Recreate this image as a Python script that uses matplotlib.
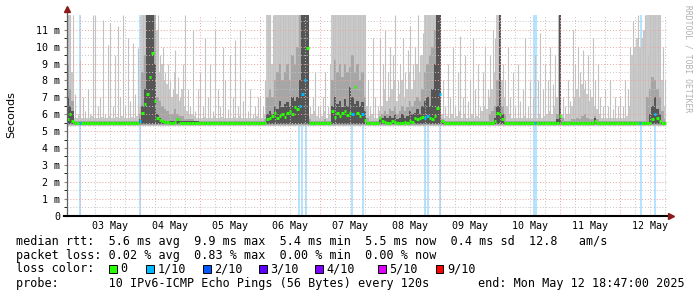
import datetime as dt
import matplotlib
matplotlib.use("Agg")
import matplotlib.pyplot as plt
import matplotlib.dates as mdates
from matplotlib.patches import Rectangle
from matplotlib.ticker import MultipleLocator, FixedLocator, FixedFormatter

# hourly samples, first one at 02 May 19:00, values in ms
first_sample = dt.datetime(2025, 5, 2, 19, 0)
t_begin = dt.datetime(2025, 5, 2, 18, 47)
t_end = dt.datetime(2025, 5, 12, 18, 47)

# tallest ping of the hour (thin light smoke spikes)
spike_top = (
    [11.9, 11.9, 11.9, 7.2, 6.0]  # 02 May
    + [9.2, 7.0, 6.2, 7.5, 6.0, 11.9, 11.9, 6.5, 7.0, 11.6, 6.0, 10.1,
       11.4, 6.5, 9.5, 11.2, 7.0, 11.9, 6.5, 10.5, 6.8, 10.2, 7.2, 9.9]  # 03
    + [6.5] + [11.9] * 7 + [9.5, 10.0, 8.5, 9.0, 8.0, 7.5, 9.8, 8.2,
                            7.0, 9.0, 11.9, 7.5, 6.5, 11.0, 6.2, 7.5]  # 04
    + [8.5, 6.5, 10.5, 7.0, 9.0, 6.2, 11.0, 7.5, 6.5, 10.0, 8.0, 6.3,
       9.5, 7.0, 10.4, 6.5, 11.0, 6.8, 8.0, 6.2, 7.5, 6.0, 6.5, 7.0]  # 05
    + [7.0, 6.5, 8.0] + [11.9] * 17 + [6.5, 7.0, 8.5, 6.5]  # 06
    + [6.5, 7.0, 8.5, 6.5, 9.0] + [11.9] * 14 + [8.0, 6.5, 10.5, 7.0, 6.5]  # 07
    + [10.5, 9.0, 11.0, 8.5, 10.0, 9.5, 11.9, 8.0, 9.0, 10.5, 8.5, 9.8,
       11.2, 9.0, 10.0, 11.9, 9.5, 10.8, 11.9, 11.9, 11.9, 11.9, 11.9, 11.9]  # 08
    + [11.9, 8.0, 6.5, 9.0, 7.0, 10.0, 6.5, 8.5, 10.6, 7.0, 9.5, 6.8,
       8.0, 10.5, 7.5, 9.0, 6.5, 8.5, 10.0, 7.5, 9.5, 11.0, 10.5, 11.9]  # 09
    + [11.9, 9.0, 8.0, 10.0, 7.0, 8.5, 6.5, 9.0, 6.8, 7.5, 10.5, 6.5,
       8.0, 7.0, 9.5, 8.0, 10.8, 7.5, 9.0, 8.0, 10.0, 7.8, 9.5, 11.9]  # 10
    + [11.9, 7.0, 6.5, 8.0, 6.8, 11.0, 9.0, 10.0, 8.5, 9.8, 8.0, 9.5,
       7.5, 10.5, 8.0, 9.0, 7.0, 6.5, 7.5, 6.5, 8.0, 6.3, 7.0, 6.5]  # 11
    + [7.0, 6.5, 8.0, 7.5, 10.0, 11.5, 9.0, 11.9, 10.0, 11.0, 11.9, 9.5,
       11.9, 11.9, 11.9, 11.9, 11.9, 10.0, 8.0]  # 12
)

# outer smoke envelope (light grey)
smoke_band = (
    [11.9, 11.9, 8.5, 5.8, 5.8]
    + [5.9, 5.8, 5.75, 5.8, 5.75, 5.9, 5.8, 5.75, 5.8, 5.85, 5.75, 5.8,
       5.9, 5.75, 5.8, 5.85, 5.75, 5.9, 5.8, 5.75, 5.8, 5.85, 5.8, 5.9]
    + [6.5] + [11.9] * 6 + [11.0, 8.5, 9.0, 8.0, 7.8, 7.5, 7.0, 8.5, 7.2,
                            6.8, 7.5, 6.5, 6.2, 6.0, 6.0, 5.9, 5.8]
    + [5.8, 5.75, 5.85, 5.8, 5.75, 5.8, 5.9, 5.75, 5.8, 5.85, 5.8, 5.75,
       5.8, 5.75, 5.85, 5.8, 5.9, 5.75, 5.8, 5.75, 5.8, 5.75, 5.8, 5.9]
    + [5.8, 5.8, 6.0, 11.9, 11.9, 9.0] + [11.9] * 14 + [5.9, 6.0, 6.2, 5.9]
    + [5.8, 5.9, 6.2, 5.8, 6.0] + [11.9] * 14 + [6.5, 5.9, 6.0, 5.8, 5.8]
    + [6.2, 6.5, 7.5, 6.8, 7.0, 7.5, 8.0, 6.8, 7.2, 8.0, 7.0, 7.5,
       8.5, 7.5, 8.0, 9.0, 8.5, 9.5, 11.9, 11.9, 11.9, 11.9, 11.9, 11.9]
    + [11.9, 6.0, 5.8, 5.9, 5.8, 6.0, 5.75, 5.9, 6.2, 5.8, 6.0, 5.75,
       5.8, 6.0, 5.8, 5.9, 5.8, 6.2, 6.5, 6.3, 7.0, 7.5, 8.5, 11.9]
    + [11.9, 8.0, 7.0, 6.5, 6.0, 5.8, 5.75, 5.8, 5.75, 5.8, 5.9, 5.75,
       5.8, 5.75, 5.9, 5.8, 6.0, 5.8, 5.9, 6.0, 6.2, 6.0, 6.5, 7.0]
    + [11.9, 6.0, 5.8, 6.0, 6.0, 6.5, 7.0, 7.5, 7.0, 7.8, 7.5, 7.2,
       6.8, 7.0, 6.5, 6.3, 6.0, 5.8, 5.8, 5.75, 5.8, 5.75, 5.8, 5.75]
    + [5.8, 5.75, 5.8, 5.9, 6.5, 9.5, 10.0, 10.5, 10.0, 10.5, 11.0, 11.9,
       11.9, 11.9, 11.9, 11.9, 11.9, 8.0, 6.5]
)

# middle smoke (mid grey)
smoke_mid = (
    [9.0, 7.5, 6.8, 5.6, 5.6]
    + [5.6] * 24
    + [6.0, 8.5, 9.5, 11.9, 11.9, 11.9, 11.9, 7.0, 6.8, 6.5, 6.3, 6.2,
       6.0, 6.0, 6.3, 6.0, 5.9, 5.9, 5.7, 5.7, 5.7, 5.7, 5.6, 5.6]
    + [5.6] * 24
    + [5.6, 5.6, 5.7, 7.0, 7.5, 7.0, 8.0, 8.5, 9.0, 8.0, 8.5, 9.0,
       8.0, 9.5, 9.0, 10.0, 11.9, 11.9, 11.9, 11.9, 5.7, 5.6, 5.6, 5.6]
    + [5.6, 5.6, 5.7, 5.6, 5.6, 8.0, 9.2, 8.5, 9.0, 8.2, 9.0, 8.5,
       8.8, 9.5, 8.5, 9.0, 8.0, 8.5, 7.0, 5.8, 5.6, 5.6, 5.6, 5.6]
    + [5.9, 6.0, 6.2, 6.0, 6.3, 6.2, 6.5, 6.0, 6.2, 6.5, 6.2, 6.4,
       6.8, 6.5, 6.8, 7.0, 6.8, 7.5, 8.5, 9.0, 9.5, 10.0, 11.0, 11.9]
    + [11.9, 5.7] + [5.6] * 18 + [6.0, 6.2, 6.5, 8.0]
    + [11.9, 6.5, 6.0] + [5.6] * 20 + [6.0]
    + [11.9, 5.8, 5.6, 5.6, 5.6, 5.7, 5.7, 5.8, 5.7, 5.9, 6.0, 5.8,
       5.7, 5.7, 5.9, 5.7] + [5.6] * 8
    + [5.6] * 11 + [7.0, 7.5, 8.2, 8.0, 7.5, 7.0, 6.2, 5.7]
)

# inner smoke (dark grey)
smoke_dark = (
    [7.0, 6.5, 6.2, 5.55, 5.55]
    + [5.55] * 24
    + [5.7, 6.5, 7.5, 11.9, 11.9, 11.9, 9.0, 6.0, 5.8] + [5.6] * 15
    + [5.55] * 24
    + [5.55] * 3 + [6.0, 6.2, 6.0, 6.5, 6.3, 6.8, 6.4, 6.6, 6.7, 6.5, 7.0,
                    6.8, 7.0, 8.0, 11.9, 11.9, 11.9] + [5.55] * 4
    + [5.55] * 5 + [6.5, 7.0, 6.6, 6.8, 6.4, 6.9, 6.5, 7.6, 7.0, 6.6, 6.8,
                    6.5, 6.7, 6.2] + [5.55] * 5
    + [5.7, 5.8, 5.9, 5.75, 5.9, 5.8, 6.0, 5.7, 5.8, 6.0, 5.8, 5.9,
       6.2, 6.0, 6.1, 6.3, 6.0, 6.5, 6.8, 7.0, 6.5, 7.5, 9.0, 11.9]
    + [11.9] + [5.55] * 21 + [5.8, 6.5]
    + [11.9, 6.0] + [5.55] * 21 + [5.7]
    + [11.9] + [5.55] * 13 + [5.75] + [5.55] * 9
    + [5.55] * 12 + [6.0, 6.5, 7.0, 6.3, 6.0, 5.55, 5.55]
)

median_rtt = (
    [5.7, 6.0, 5.6, 5.5, 5.45]
    + [5.45, 5.5, 5.45, 5.45, 5.5, 5.45, 5.45, 5.5, 5.45, 5.45, 5.45, 5.5,
       5.45, 5.45, 5.5, 5.45, 5.45, 5.45, 5.5, 5.45, 5.45, 5.5, 5.45, 5.45]
    + [5.6, 6.1, 6.6, 7.2, 8.2, 9.6, 6.8, 5.8, 5.65, 5.6, 5.55, 5.55,
       5.5, 5.5, 5.55, 5.7, 5.5, 5.5, 5.5, 5.45, 5.45, 5.5, 5.45, 5.45]
    + [5.45, 5.45, 5.5, 5.45, 5.45, 5.5, 5.45, 5.45, 5.45, 5.5, 5.45, 5.45,
       5.5, 5.45, 5.45, 5.45, 5.5, 5.45, 5.45, 5.5, 5.45, 5.45, 5.45, 5.5]
    + [5.45, 5.45, 5.5, 5.7, 5.75, 5.9, 6.05, 5.8, 5.9, 6.0, 5.85, 6.05,
       6.2, 6.0, 6.4, 6.3, 6.5, 7.2, 8.0, 9.9, 5.5, 5.45, 5.45, 5.45]
    + [5.45, 5.5, 5.45, 5.45, 5.5, 6.2, 5.85, 6.05, 5.9, 6.05, 6.2, 5.95,
       6.1, 6.0, 7.6, 6.05, 5.9, 6.0, 5.65, 5.5, 5.45, 5.45, 5.5, 5.45]
    + [5.75, 5.6, 5.55, 5.5, 5.5, 5.6, 5.55, 5.5, 5.5, 5.5, 5.55, 5.5,
       5.6, 5.55, 5.75, 5.7, 5.8, 5.85, 5.75, 5.9, 5.8, 5.7, 5.9, 6.35]
    + [7.2, 5.6, 5.5, 5.45, 5.45, 5.5, 5.45, 5.45, 5.5, 5.45, 5.45, 5.45,
       5.5, 5.45, 5.45, 5.5, 5.45, 5.45, 5.45, 5.5, 5.45, 5.5, 5.6, 6.05]
    + [6.0, 5.7, 5.5, 5.45, 5.45, 5.5, 5.45, 5.45, 5.45, 5.5, 5.45, 5.45,
       5.5, 5.45, 5.45, 5.45, 5.5, 5.45, 5.45, 5.5, 5.45, 5.45, 5.45, 5.5]
    + [5.9, 5.5, 5.45, 5.45, 5.5, 5.45, 5.45, 5.45, 5.5, 5.45, 5.45, 5.5,
       5.45, 5.45, 5.6, 5.5, 5.45, 5.45, 5.5, 5.45, 5.45, 5.45, 5.5, 5.45]
    + [5.45, 5.5, 5.45, 5.45, 5.45, 5.5, 5.45, 5.45, 5.5, 5.45, 5.45, 5.5,
       5.45, 5.7, 6.0, 5.8, 5.6, 5.5, 5.45]
)
smoke_floor = 5.3

# moments with 1/10 packet loss
loss_times = ["2025-05-03 00:00", "2025-05-04 00:00", "2025-05-06 15:36",
              "2025-05-06 16:48", "2025-05-06 18:24", "2025-05-07 12:48",
              "2025-05-07 17:12", "2025-05-08 18:00", "2025-05-08 19:12",
              "2025-05-09 00:00", "2025-05-10 13:36", "2025-05-10 14:24",
              "2025-05-12 08:24", "2025-05-12 14:00"]

y_ticks = [0, 1, 2, 3, 4, 5, 6, 7, 8, 9, 10, 11]
y_ticklabels = ["0", "1 m", "2 m", "3 m", "4 m", "5 m", "6 m", "7 m",
                "8 m", "9 m", "10 m", "11 m"]

loss_names = ["0", "1/10", "2/10", "3/10", "4/10", "5/10", "9/10"]
loss_colors = ["#26ff00", "#00b8ff", "#0059ff", "#5e00ff", "#7e00ff",
               "#dd00ff", "#ff0000"]

legend_rtt = ("median rtt:  5.6 ms avg  9.9 ms max  5.4 ms min  "
              "5.5 ms now  0.4 ms sd  12.8   am/s")
legend_loss = "packet loss: 0.02 % avg  0.83 % max  0.00 % min  0.00 % now"
legend_probe = "probe:       10 IPv6-ICMP Echo Pings (56 Bytes) every 120s"
legend_end = "end: Mon May 12 18:47:00 2025"

W, H = 697, 297
MONO = "DejaVu Sans Mono"

fig = plt.figure(figsize=(W / 100, H / 100), dpi=100)
ax = fig.add_axes([67 / W, (H - 215.6) / H, 600 / W, (215.6 - 14.5) / H])

x = mdates.date2num([first_sample + dt.timedelta(hours=i)
                     for i in range(len(median_rtt))])
hour = 1 / 24
loss_x = mdates.date2num([dt.datetime.strptime(s, "%Y-%m-%d %H:%M")
                          for s in loss_times])
top = 11.9

# loss markers behind the smoke
ax.vlines(loss_x, 0, top, colors="#9edcff", lw=1.1, zorder=0.8)

# smoke
ax.fill_between(x, smoke_floor, smoke_band, step="mid", color="#cbcbcb",
                lw=0, zorder=1.0)
ax.vlines(x, smoke_floor, spike_top, colors="#c2c2c2", lw=0.8, zorder=1.0)
ax.fill_between(x, smoke_floor + 0.05, smoke_mid, step="mid",
                color="#a6a6a6", lw=0, zorder=1.1)
ax.fill_between(x, smoke_floor + 0.1, smoke_dark, step="mid",
                color="#555555", lw=0, zorder=1.2)

# median, coloured by loss
med_colors = []
for xi in x:
    lossy = any(abs(lx - xi) <= hour / 2 for lx in loss_x)
    med_colors.append(loss_colors[1] if lossy else loss_colors[0])
ax.hlines(median_rtt, x - hour / 2, x + hour / 2, colors=med_colors,
          lw=2.2, zorder=3)

# grid
ax.set_axisbelow(False)
ax.set_ylim(0, top)
ax.yaxis.set_major_locator(FixedLocator(y_ticks))
ax.yaxis.set_major_formatter(FixedFormatter(y_ticklabels))
ax.yaxis.set_minor_locator(MultipleLocator(0.5))
ax.grid(which="major", axis="y", color="#eba3a3", ls=(0, (1, 2)), lw=0.7)
ax.grid(which="minor", axis="y", color="#c4c4c4", ls=(0, (1, 2)), lw=0.7)

ax.set_xlim(mdates.date2num(t_begin), mdates.date2num(t_end))
g = dt.datetime(2025, 5, 3, 0, 0)
while g < t_end:
    col = "#eba3a3" if g.hour == 0 else "#c4c4c4"
    ax.axvline(mdates.date2num(g), color=col, ls=(0, (1, 2)), lw=0.7,
               zorder=2.5)
    g += dt.timedelta(hours=6)

ax.xaxis.set_major_locator(mdates.HourLocator(byhour=12))
ax.xaxis.set_major_formatter(mdates.DateFormatter("%d %b"))
ax.tick_params(axis="x", length=0, pad=4, labelsize=7.2)
ax.tick_params(axis="y", length=2, color="#888888", pad=3, labelsize=7.2)
for lab in ax.get_xticklabels() + ax.get_yticklabels():
    lab.set_family(MONO)

for s in ["top", "right", "left", "bottom"]:
    ax.spines[s].set_visible(False)
ax.plot([0, 0], [0, 1.02], transform=ax.transAxes, color="#606060", lw=0.9,
        clip_on=False, zorder=5)
ax.plot([-0.005, 1.004], [0, 0], transform=ax.transAxes, color="black",
        lw=1.5, clip_on=False, zorder=5)
ax.plot([0], [1.027], marker="^", ms=4.5, color="#8b1a1a",
        transform=ax.transAxes, clip_on=False, zorder=6)
ax.plot([1.007], [0], marker=">", ms=4.5, color="#8b1a1a",
        transform=ax.transAxes, clip_on=False, zorder=6)

fig.text(11 / W, 1 - 115 / H, "Seconds", rotation=90, ha="center",
         va="center", fontsize=8, family="DejaVu Sans")
fig.text(688 / W, 1 - 59 / H, "RRDTOOL / TOBI OETIKER", rotation=270,
         ha="center", va="center", fontsize=5.8, color="#b0b0b0", family=MONO)

# legend block
fs = 8.5
fig.text(16 / W, 1 - 241 / H, legend_rtt, fontsize=fs, family=MONO, va="center")
fig.text(16 / W, 1 - 255 / H, legend_loss, fontsize=fs, family=MONO, va="center")
fig.text(16 / W, 1 - 269 / H, "loss color:", fontsize=fs, family=MONO,
         va="center")
sq_left = [109, 146, 203, 259, 315, 378, 436]
for sx, name, col in zip(sq_left, loss_names, loss_colors):
    fig.patches.append(Rectangle((sx / W, 1 - 272.5 / H), 7.5 / W, 7.5 / H,
                                 transform=fig.transFigure, facecolor=col,
                                 edgecolor="black", lw=0.7))
    fig.text((sx + 11.5) / W, 1 - 269 / H, name, fontsize=fs, family=MONO,
             va="center")
fig.text(16 / W, 1 - 284 / H, legend_probe, fontsize=fs, family=MONO,
         va="center")
fig.text(478 / W, 1 - 284 / H, legend_end, fontsize=fs, family=MONO,
         va="center")

fig.savefig("out.png", dpi=100, facecolor="white")
